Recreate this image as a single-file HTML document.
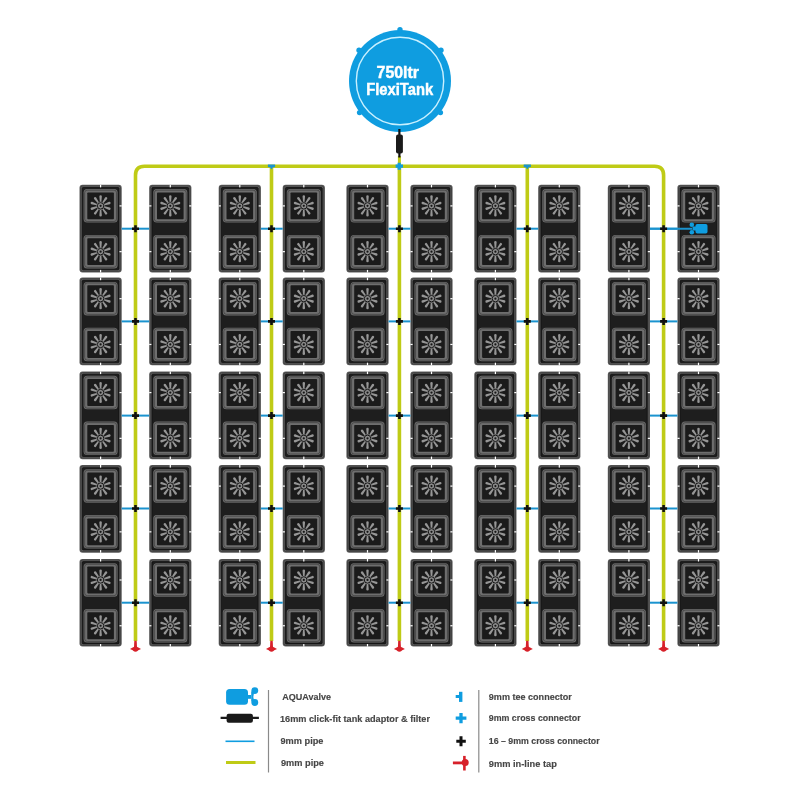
<!DOCTYPE html>
<html><head><meta charset="utf-8"><style>
html,body{margin:0;padding:0;background:#fff;width:800px;height:800px;overflow:hidden}
svg{display:block;will-change:transform}
</style></head><body>
<svg width="800" height="800" viewBox="0 0 800 800">
<defs>
<g id="pot">
 <rect x="0" y="0" width="34" height="33.5" rx="3.5" fill="#6e6e6e"/>
 <rect x="1.05" y="1.05" width="31.9" height="31.4" rx="2.6" fill="none" stroke="#333" stroke-width="0.6"/>
 <rect x="3.7" y="3.3" width="26.6" height="26.9" rx="0.8" fill="#1b1b1b"/>
 <g transform="translate(17 16.75)">
  <path d="M0.75 -4L1.25 -9.3A1.25 1.25 0 0 0 -1.25 -9.3L-0.75 -4ZM2.96 -2.8L6.48 -6.79A1.25 1.25 0 0 0 4.46 -8.26L1.74 -3.68ZM4.04 -0.52L9.23 -1.69A1.25 1.25 0 0 0 8.46 -4.06L3.57 -1.95ZM3.57 1.95L8.46 4.06A1.25 1.25 0 0 0 9.23 1.69L4.04 0.52ZM1.74 3.68L4.46 8.26A1.25 1.25 0 0 0 6.48 6.79L2.96 2.8ZM-0.75 4L-1.25 9.3A1.25 1.25 0 0 0 1.25 9.3L0.75 4ZM-2.96 2.8L-6.48 6.79A1.25 1.25 0 0 0 -4.46 8.26L-1.74 3.68ZM-4.04 0.52L-9.23 1.69A1.25 1.25 0 0 0 -8.46 4.06L-3.57 1.95ZM-3.57 -1.95L-8.46 -4.06A1.25 1.25 0 0 0 -9.23 -1.69L-4.04 -0.52ZM-1.74 -3.68L-4.46 -8.26A1.25 1.25 0 0 0 -6.48 -6.79L-2.96 -2.8Z" fill="#969696"/>
  <circle r="4.2" fill="#8a8a8a"/>
  <circle r="3.2" fill="none" stroke="#161616" stroke-width="1.0"/>
  <circle r="1.1" fill="#161616"/>
 </g>
</g>
<g id="tray">
 <rect x="0" y="0" width="42.2" height="87.7" rx="3" fill="#5e5e5e"/>
 <rect x="1.1" y="1.1" width="40" height="85.5" rx="2.2" fill="none" stroke="#2e2e2e" stroke-width="0.55"/>
 <rect x="2.7" y="2.7" width="36.8" height="82.3" rx="1" fill="#1e1e1e" stroke="#0c0c0c" stroke-width="0.7"/>
 <use href="#pot" x="4.1" y="4.3"/>
 <use href="#pot" x="4.1" y="50.1"/>
 <rect x="20.5" y="0" width="1.2" height="2.6" fill="#fff"/>
 <rect x="20.5" y="85.1" width="1.2" height="2.6" fill="#fff"/>
</g>
<g id="nL"><rect x="0" y="20.5" width="2.2" height="1.2" fill="#fff"/><rect x="0" y="66.25" width="2.2" height="1.2" fill="#fff"/></g>
<g id="nR"><rect x="40" y="20.5" width="2.2" height="1.2" fill="#fff"/><rect x="40" y="66.25" width="2.2" height="1.2" fill="#fff"/></g>
<g id="xblk"><path d="M-3.5 0H3.5M0 -3.5V3.5" stroke="#111" stroke-width="2.6"/></g>
<g id="tap"><path d="M-1.2 -7.2H1.2L1.5 -1H-1.5Z" fill="#d7212a"/><circle cx="0" cy="1.1" r="2.7" fill="#d7212a"/><path d="M-5.5 0.9Q-3 -0.7 0 -0.9Q3 -0.7 5.5 0.9Q3 2.5 0 2.7Q-3 2.5 -5.5 0.9Z" fill="#d7212a"/></g>
</defs>
<rect width="800" height="800" fill="#fff"/>
<use href="#tray" x="79.5" y="184.8"/><use href="#nR" x="79.5" y="184.8"/><use href="#tray" x="149.2" y="184.8"/><use href="#nL" x="149.2" y="184.8"/><use href="#nR" x="149.2" y="184.8"/><use href="#tray" x="218.7" y="184.8"/><use href="#nL" x="218.7" y="184.8"/><use href="#nR" x="218.7" y="184.8"/><use href="#tray" x="282.7" y="184.8"/><use href="#nL" x="282.7" y="184.8"/><use href="#tray" x="346.4" y="184.8"/><use href="#nR" x="346.4" y="184.8"/><use href="#tray" x="410.4" y="184.8"/><use href="#nL" x="410.4" y="184.8"/><use href="#nR" x="410.4" y="184.8"/><use href="#tray" x="474.3" y="184.8"/><use href="#nR" x="474.3" y="184.8"/><use href="#tray" x="538.2" y="184.8"/><use href="#nR" x="538.2" y="184.8"/><use href="#tray" x="607.8" y="184.8"/><use href="#nR" x="607.8" y="184.8"/><use href="#tray" x="677.4" y="184.8"/><use href="#nL" x="677.4" y="184.8"/><use href="#nR" x="677.4" y="184.8"/><use href="#tray" x="79.5" y="277.6"/><use href="#nR" x="79.5" y="277.6"/><use href="#tray" x="149.2" y="277.6"/><use href="#nL" x="149.2" y="277.6"/><use href="#nR" x="149.2" y="277.6"/><use href="#tray" x="218.7" y="277.6"/><use href="#nL" x="218.7" y="277.6"/><use href="#nR" x="218.7" y="277.6"/><use href="#tray" x="282.7" y="277.6"/><use href="#nL" x="282.7" y="277.6"/><use href="#tray" x="346.4" y="277.6"/><use href="#nR" x="346.4" y="277.6"/><use href="#tray" x="410.4" y="277.6"/><use href="#nL" x="410.4" y="277.6"/><use href="#nR" x="410.4" y="277.6"/><use href="#tray" x="474.3" y="277.6"/><use href="#nR" x="474.3" y="277.6"/><use href="#tray" x="538.2" y="277.6"/><use href="#nR" x="538.2" y="277.6"/><use href="#tray" x="607.8" y="277.6"/><use href="#nR" x="607.8" y="277.6"/><use href="#tray" x="677.4" y="277.6"/><use href="#nL" x="677.4" y="277.6"/><use href="#nR" x="677.4" y="277.6"/><use href="#tray" x="79.5" y="371.5"/><use href="#nR" x="79.5" y="371.5"/><use href="#tray" x="149.2" y="371.5"/><use href="#nL" x="149.2" y="371.5"/><use href="#nR" x="149.2" y="371.5"/><use href="#tray" x="218.7" y="371.5"/><use href="#nL" x="218.7" y="371.5"/><use href="#nR" x="218.7" y="371.5"/><use href="#tray" x="282.7" y="371.5"/><use href="#nL" x="282.7" y="371.5"/><use href="#tray" x="346.4" y="371.5"/><use href="#nR" x="346.4" y="371.5"/><use href="#tray" x="410.4" y="371.5"/><use href="#nL" x="410.4" y="371.5"/><use href="#nR" x="410.4" y="371.5"/><use href="#tray" x="474.3" y="371.5"/><use href="#nR" x="474.3" y="371.5"/><use href="#tray" x="538.2" y="371.5"/><use href="#nR" x="538.2" y="371.5"/><use href="#tray" x="607.8" y="371.5"/><use href="#nR" x="607.8" y="371.5"/><use href="#tray" x="677.4" y="371.5"/><use href="#nL" x="677.4" y="371.5"/><use href="#nR" x="677.4" y="371.5"/><use href="#tray" x="79.5" y="465"/><use href="#nR" x="79.5" y="465"/><use href="#tray" x="149.2" y="465"/><use href="#nL" x="149.2" y="465"/><use href="#nR" x="149.2" y="465"/><use href="#tray" x="218.7" y="465"/><use href="#nL" x="218.7" y="465"/><use href="#nR" x="218.7" y="465"/><use href="#tray" x="282.7" y="465"/><use href="#nL" x="282.7" y="465"/><use href="#tray" x="346.4" y="465"/><use href="#nR" x="346.4" y="465"/><use href="#tray" x="410.4" y="465"/><use href="#nL" x="410.4" y="465"/><use href="#nR" x="410.4" y="465"/><use href="#tray" x="474.3" y="465"/><use href="#nR" x="474.3" y="465"/><use href="#tray" x="538.2" y="465"/><use href="#nR" x="538.2" y="465"/><use href="#tray" x="607.8" y="465"/><use href="#nR" x="607.8" y="465"/><use href="#tray" x="677.4" y="465"/><use href="#nL" x="677.4" y="465"/><use href="#nR" x="677.4" y="465"/><use href="#tray" x="79.5" y="558.9"/><use href="#nR" x="79.5" y="558.9"/><use href="#tray" x="149.2" y="558.9"/><use href="#nL" x="149.2" y="558.9"/><use href="#nR" x="149.2" y="558.9"/><use href="#tray" x="218.7" y="558.9"/><use href="#nL" x="218.7" y="558.9"/><use href="#nR" x="218.7" y="558.9"/><use href="#tray" x="282.7" y="558.9"/><use href="#nL" x="282.7" y="558.9"/><use href="#tray" x="346.4" y="558.9"/><use href="#nR" x="346.4" y="558.9"/><use href="#tray" x="410.4" y="558.9"/><use href="#nL" x="410.4" y="558.9"/><use href="#nR" x="410.4" y="558.9"/><use href="#tray" x="474.3" y="558.9"/><use href="#nR" x="474.3" y="558.9"/><use href="#tray" x="538.2" y="558.9"/><use href="#nR" x="538.2" y="558.9"/><use href="#tray" x="607.8" y="558.9"/><use href="#nR" x="607.8" y="558.9"/><use href="#tray" x="677.4" y="558.9"/><use href="#nL" x="677.4" y="558.9"/><use href="#nR" x="677.4" y="558.9"/><path d="M121.7 228.7H149.2" stroke="#1a93cf" stroke-width="2"/><path d="M260.9 228.7H282.7" stroke="#1a93cf" stroke-width="2"/><path d="M388.6 228.7H410.4" stroke="#1a93cf" stroke-width="2"/><path d="M516.5 228.7H538.2" stroke="#1a93cf" stroke-width="2"/><path d="M650 228.7H677.4" stroke="#1a93cf" stroke-width="2"/><path d="M121.7 321.4H149.2" stroke="#1a93cf" stroke-width="2"/><path d="M260.9 321.4H282.7" stroke="#1a93cf" stroke-width="2"/><path d="M388.6 321.4H410.4" stroke="#1a93cf" stroke-width="2"/><path d="M516.5 321.4H538.2" stroke="#1a93cf" stroke-width="2"/><path d="M650 321.4H677.4" stroke="#1a93cf" stroke-width="2"/><path d="M121.7 415.6H149.2" stroke="#1a93cf" stroke-width="2"/><path d="M260.9 415.6H282.7" stroke="#1a93cf" stroke-width="2"/><path d="M388.6 415.6H410.4" stroke="#1a93cf" stroke-width="2"/><path d="M516.5 415.6H538.2" stroke="#1a93cf" stroke-width="2"/><path d="M650 415.6H677.4" stroke="#1a93cf" stroke-width="2"/><path d="M121.7 508.5H149.2" stroke="#1a93cf" stroke-width="2"/><path d="M260.9 508.5H282.7" stroke="#1a93cf" stroke-width="2"/><path d="M388.6 508.5H410.4" stroke="#1a93cf" stroke-width="2"/><path d="M516.5 508.5H538.2" stroke="#1a93cf" stroke-width="2"/><path d="M650 508.5H677.4" stroke="#1a93cf" stroke-width="2"/><path d="M121.7 602.7H149.2" stroke="#1a93cf" stroke-width="2"/><path d="M260.9 602.7H282.7" stroke="#1a93cf" stroke-width="2"/><path d="M388.6 602.7H410.4" stroke="#1a93cf" stroke-width="2"/><path d="M516.5 602.7H538.2" stroke="#1a93cf" stroke-width="2"/><path d="M650 602.7H677.4" stroke="#1a93cf" stroke-width="2"/><path d="M135.5 641V175.3Q135.5 166.3 144.5 166.3H654.6Q663.6 166.3 663.6 175.3V641" stroke="#bfcb16" stroke-width="3.6" fill="none"/><path d="M271.5 166.3V641" stroke="#bfcb16" stroke-width="3.6"/><path d="M399.4 166.3V641" stroke="#bfcb16" stroke-width="3.6"/><path d="M527.3 166.3V641" stroke="#bfcb16" stroke-width="3.6"/><path d="M650 228.7H692" stroke="#1a93cf" stroke-width="2"/><rect x="695.5" y="224" width="12" height="9.5" rx="1.8" fill="#0f9de0"/><circle cx="691.8" cy="224.8" r="2.3" fill="#0f9de0"/><circle cx="691.8" cy="232.2" r="2.3" fill="#0f9de0"/><rect x="692.5" y="226.5" width="3.5" height="4" fill="#0f9de0"/><use href="#xblk" x="135.5" y="228.7"/><use href="#xblk" x="271.5" y="228.7"/><use href="#xblk" x="399.4" y="228.7"/><use href="#xblk" x="527.3" y="228.7"/><use href="#xblk" x="663.6" y="228.7"/><use href="#xblk" x="135.5" y="321.4"/><use href="#xblk" x="271.5" y="321.4"/><use href="#xblk" x="399.4" y="321.4"/><use href="#xblk" x="527.3" y="321.4"/><use href="#xblk" x="663.6" y="321.4"/><use href="#xblk" x="135.5" y="415.6"/><use href="#xblk" x="271.5" y="415.6"/><use href="#xblk" x="399.4" y="415.6"/><use href="#xblk" x="527.3" y="415.6"/><use href="#xblk" x="663.6" y="415.6"/><use href="#xblk" x="135.5" y="508.5"/><use href="#xblk" x="271.5" y="508.5"/><use href="#xblk" x="399.4" y="508.5"/><use href="#xblk" x="527.3" y="508.5"/><use href="#xblk" x="663.6" y="508.5"/><use href="#xblk" x="135.5" y="602.7"/><use href="#xblk" x="271.5" y="602.7"/><use href="#xblk" x="399.4" y="602.7"/><use href="#xblk" x="527.3" y="602.7"/><use href="#xblk" x="663.6" y="602.7"/><use href="#tap" x="135.5" y="648"/><use href="#tap" x="271.5" y="648"/><use href="#tap" x="399.4" y="648"/><use href="#tap" x="527.3" y="648"/><use href="#tap" x="663.6" y="648"/><path d="M267.9 164.6H275.1V167L272.8 167.6L271.5 169.5L270.2 167.6L267.9 167Z" fill="#1a93cf"/><path d="M523.7 164.6H530.9V167L528.6 167.6L527.3 169.5L526 167.6L523.7 167Z" fill="#1a93cf"/><path d="M399.4 156V166.5" stroke="#bfcb16" stroke-width="3"/><path d="M395.6 166.1H403M399.2 162.7V169.7" stroke="#0f9de0" stroke-width="3.2"/>
<circle cx="400" cy="81" r="51" fill="#0f9de0"/><circle cx="400" cy="29.7" r="2.7" fill="#0f9de0"/><circle cx="440.97" cy="50.13" r="2.7" fill="#0f9de0"/><circle cx="359.03" cy="50.13" r="2.7" fill="#0f9de0"/><circle cx="440.42" cy="112.58" r="2.7" fill="#0f9de0"/><circle cx="359.58" cy="112.58" r="2.7" fill="#0f9de0"/><circle cx="400" cy="81" r="43.7" fill="none" stroke="#c8f0ff" stroke-width="1.4"/><text x="376.6" y="77.8" textLength="42.3" lengthAdjust="spacingAndGlyphs" font-size="16.3" font-weight="bold" fill="#fff" stroke="#fff" stroke-width="0.45" font-family="Liberation Sans">750ltr</text><text x="366.2" y="95.1" textLength="67" lengthAdjust="spacingAndGlyphs" font-size="16.3" font-weight="bold" fill="#fff" stroke="#fff" stroke-width="0.45" font-family="Liberation Sans">FlexiTank</text><path d="M399.4 129V157.5" stroke="#111" stroke-width="2.2"/><rect x="396" y="134.4" width="6.9" height="19" rx="2" fill="#1a1a1a"/>
<rect x="226.1" y="689" width="21.9" height="15.8" rx="3.6" fill="#0f9de0"/><rect x="247" y="695" width="4" height="3.8" fill="#0f9de0"/><circle cx="254.8" cy="690.6" r="3.4" fill="#0f9de0"/><circle cx="254.8" cy="702.5" r="3.4" fill="#0f9de0"/><path d="M251.2 691.5H254.2Q252.6 696.6 254.2 701.6H251.2Z" fill="#0f9de0"/><path d="M220.6 717.9H258.9" stroke="#1a1a1a" stroke-width="2.2"/><rect x="226.6" y="713.8" width="26.3" height="9" rx="2" fill="#1a1a1a"/><path d="M225.5 741.3H254.5" stroke="#0f9de0" stroke-width="1.6"/><path d="M226 762.5H255.5" stroke="#bfcb16" stroke-width="3"/><path d="M268.5 690V772.5" stroke="#8a8a8a" stroke-width="1.2"/><path d="M478.8 690V772.5" stroke="#8a8a8a" stroke-width="1.2"/><rect x="459" y="691.8" width="3.4" height="10.1" fill="#0f9de0"/><rect x="455.7" y="695" width="3.5" height="3" fill="#0f9de0"/><path d="M455.7 718.2H466.4M461 713V723.3" stroke="#0f9de0" stroke-width="3.3"/><path d="M456.3 741.3H465.8M461 736.2V746.3" stroke="#111" stroke-width="3"/><path d="M452.9 762.9H464" stroke="#d7212a" stroke-width="2.8"/><circle cx="465.2" cy="762.6" r="3.5" fill="#d7212a"/><path d="M464.4 755.9V770.5" stroke="#d7212a" stroke-width="2.6"/><text x="282.3" y="700.4" font-size="9.4" font-family="Liberation Sans" font-weight="bold" fill="#464646" stroke="#464646" stroke-width="0.15" textLength="48.8" lengthAdjust="spacingAndGlyphs">AQUAvalve</text><text x="280" y="721.7" font-size="9.4" font-family="Liberation Sans" font-weight="bold" fill="#464646" stroke="#464646" stroke-width="0.15" textLength="150" lengthAdjust="spacingAndGlyphs">16mm click-fit tank adaptor &amp; filter</text><text x="280.5" y="744.0" font-size="9.4" font-family="Liberation Sans" font-weight="bold" fill="#464646" stroke="#464646" stroke-width="0.15" textLength="43" lengthAdjust="spacingAndGlyphs">9mm pipe</text><text x="281" y="766.3" font-size="9.4" font-family="Liberation Sans" font-weight="bold" fill="#464646" stroke="#464646" stroke-width="0.15" textLength="43" lengthAdjust="spacingAndGlyphs">9mm pipe</text><text x="488.8" y="700.4" font-size="9.4" font-family="Liberation Sans" font-weight="bold" fill="#464646" stroke="#464646" stroke-width="0.15" textLength="83" lengthAdjust="spacingAndGlyphs">9mm tee connector</text><text x="488.8" y="720.8" font-size="9.4" font-family="Liberation Sans" font-weight="bold" fill="#464646" stroke="#464646" stroke-width="0.15" textLength="91.8" lengthAdjust="spacingAndGlyphs">9mm cross connector</text><text x="488.8" y="744.1" font-size="9.4" font-family="Liberation Sans" font-weight="bold" fill="#464646" stroke="#464646" stroke-width="0.15" textLength="110.8" lengthAdjust="spacingAndGlyphs">16 – 9mm cross connector</text><text x="488.8" y="766.6" font-size="9.4" font-family="Liberation Sans" font-weight="bold" fill="#464646" stroke="#464646" stroke-width="0.15" textLength="68" lengthAdjust="spacingAndGlyphs">9mm in-line tap</text>
</svg>
</body></html>
